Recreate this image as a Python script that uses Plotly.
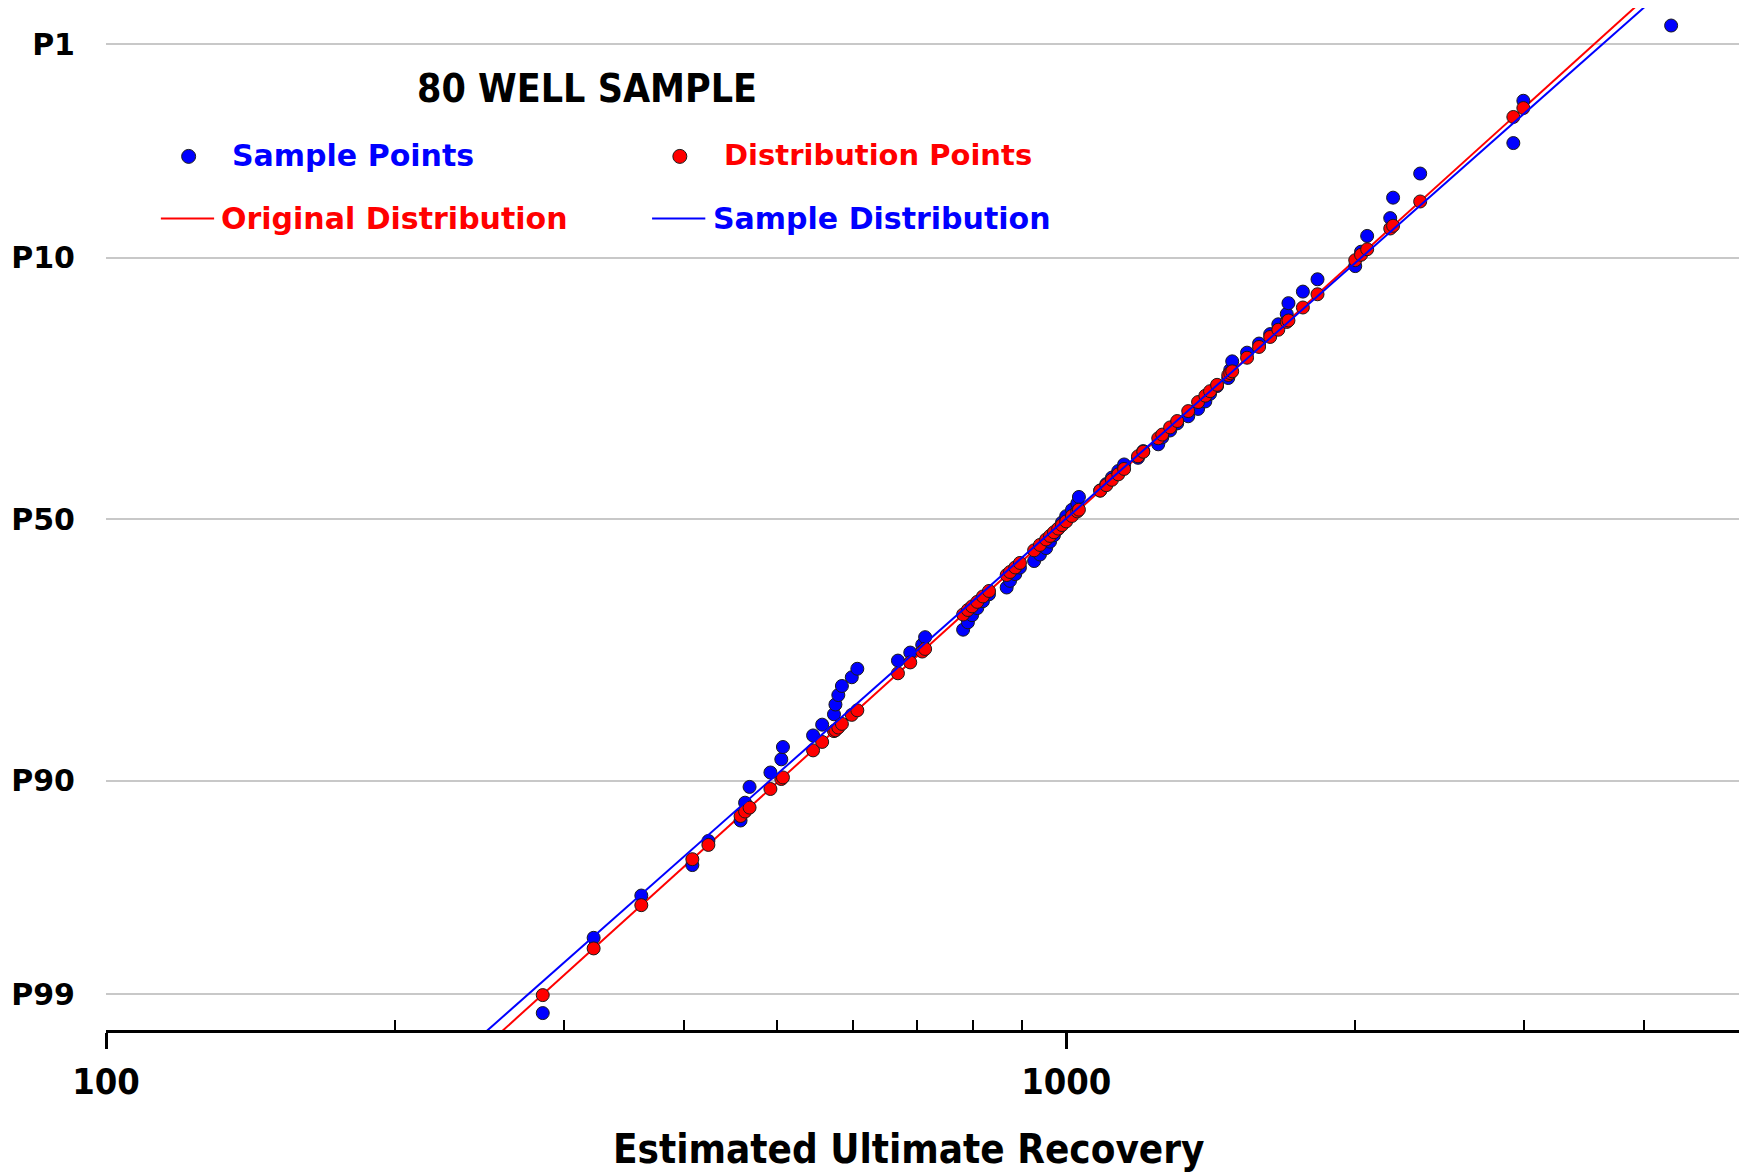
from statistics import NormalDist
import plotly.graph_objects as go

# ---------------- data ----------------
# 80 sample EUR values, ascending
sample_eur = [285, 322, 361, 408, 424, 458, 463, 468, 492, 505,
              507, 545, 557, 573, 575, 579, 584, 598, 606, 668,
              688, 708, 713, 781, 790, 798, 808, 819, 831, 867,
              874, 885, 895, 926, 939, 953, 962, 971, 981, 990,
              1000, 1014, 1027, 1031, 1085, 1101, 1116, 1133, 1149, 1188,
              1203, 1247, 1259, 1283, 1305, 1340, 1372, 1396, 1412, 1436,
              1475, 1482, 1489, 1543, 1588, 1631, 1663, 1697, 1704, 1764,
              1827, 2000, 2028, 2058, 2175, 2190, 2337, 2922, 2993, 4266]

# rank-based cumulative probability (%) of each sample point
sample_cum_pct = [0.78, 2.02, 3.27, 4.52, 5.76, 7.01, 8.26, 9.50, 10.75, 11.99,
                  13.24, 14.49, 15.73, 16.98, 18.22, 19.47, 20.72, 21.96, 23.21, 24.45,
                  25.70, 26.95, 28.19, 29.44, 30.69, 31.93, 33.18, 34.42, 35.67, 36.92,
                  38.16, 39.41, 40.65, 41.90, 43.15, 44.39, 45.64, 46.88, 48.13, 49.38,
                  50.62, 51.87, 53.12, 54.36, 55.61, 56.85, 58.10, 59.35, 60.59, 61.84,
                  63.08, 64.33, 65.58, 66.82, 68.07, 69.31, 70.56, 71.81, 73.05, 74.30,
                  75.55, 76.79, 78.04, 79.28, 80.53, 81.78, 83.02, 84.27, 85.51, 86.76,
                  88.01, 89.25, 90.50, 91.74, 92.99, 94.24, 95.48, 96.73, 97.98, 99.22]

# cumulative probability (%) of the same EUR values on the original distribution
dist_cum_pct = [0.99, 1.78, 2.94, 4.80, 5.54, 7.31, 7.62, 7.90, 9.33, 10.17,
                10.31, 12.89, 13.78, 14.98, 15.08, 15.39, 15.82, 16.91, 17.48, 22.54,
                24.17, 25.86, 26.28, 32.05, 32.85, 33.49, 34.30, 35.28, 36.28, 39.25,
                39.82, 40.68, 41.54, 43.97, 45.01, 46.07, 46.76, 47.48, 48.19, 48.88,
                49.59, 50.65, 51.54, 51.88, 55.58, 56.63, 57.67, 58.71, 59.74, 62.12,
                62.96, 65.43, 66.09, 67.37, 68.48, 70.19, 71.71, 72.75, 73.48, 74.49,
                76.02, 76.30, 76.57, 78.56, 80.07, 81.41, 82.34, 83.31, 83.49, 85.02,
                86.48, 89.78, 90.24, 90.70, 92.28, 92.47, 94.02, 97.56, 97.80, 99.62]

# fitted straight lines (EUR at cumulative 0.5 % and 99.5 %)
line_cum_pct = [0.5, 99.5]
original_line_eur = [249.0, 4059.0]
sample_line_eur = [239.7, 4154.0]

# axis ticks
p_tick_labels = ["P1", "P10", "P50", "P90", "P99"]
p_tick_exceed = [1, 10, 50, 90, 99]
x_tick_vals = [100, 1000]
x_tick_text = ["100", "1000"]
x_minor_vals = [200, 300, 400, 500, 600, 700, 800, 900, 2000, 3000, 4000]

BLUE = "#0000ff"
RED = "#ff0000"
OUTLINE = "#1a1a1a"

nd = NormalDist()


def probit(cum_pct):
    return nd.inv_cdf(cum_pct / 100.0)


y_sample = [probit(p) for p in sample_cum_pct]
y_dist = [probit(p) for p in dist_cum_pct]
y_line = [probit(p) for p in line_cum_pct]
y_ticks = [probit(100 - p) for p in p_tick_exceed]

fig = go.Figure()
fig.add_trace(go.Scatter(x=original_line_eur, y=y_line, mode="lines",
                         line=dict(color=RED, width=2), hoverinfo="skip"))
fig.add_trace(go.Scatter(x=sample_eur, y=y_sample, mode="markers",
                         marker=dict(color=BLUE, size=13, line=dict(color=OUTLINE, width=1)),
                         hoverinfo="skip"))
fig.add_trace(go.Scatter(x=sample_eur, y=y_dist, mode="markers",
                         marker=dict(color=RED, size=13, line=dict(color=OUTLINE, width=1)),
                         hoverinfo="skip"))
fig.add_trace(go.Scatter(x=sample_line_eur, y=y_line, mode="lines",
                         line=dict(color=BLUE, width=2), hoverinfo="skip"))

narrow = "Liberation Sans Narrow, DejaVu Sans Condensed, Liberation Sans, sans-serif"
heavy = "DejaVu Sans, Verdana, sans-serif"

fig.update_layout(
    width=1739, height=1173,
    margin=dict(l=106, r=0, t=8, b=143),
    paper_bgcolor="white", plot_bgcolor="white",
    showlegend=False,
    xaxis=dict(
        type="log", range=[2, 3.7007],
        tickmode="array", tickvals=x_tick_vals, ticktext=[f"<b>{t}</b>" for t in x_tick_text],
        tickfont=dict(family=narrow, size=36, color="black"),
        ticks="outside", ticklen=16, tickwidth=2.5, tickcolor="black",
        ticklabelstandoff=2,
        minor=dict(tickmode="array", tickvals=x_minor_vals, ticks="inside",
                   ticklen=10, tickwidth=1.5, tickcolor="black", showgrid=False),
        showline=True, linecolor="black", linewidth=3,
        showgrid=False, zeroline=False,
    ),
    yaxis=dict(
        range=[-2.501, 2.504],
        tickmode="array", tickvals=y_ticks, ticktext=[f"<b>{t}</b>" for t in p_tick_labels],
        tickfont=dict(family=heavy, size=30, color="black"),
        ticks="", ticklabelstandoff=30,
        showgrid=True, gridcolor="#c8c8c8", gridwidth=1.5,
        showline=False, zeroline=False,
    ),
)

annotations = [
    dict(text="<b>Estimated Ultimate Recovery</b>", x=0.4912, y=-0.1164,
         xanchor="center", yanchor="middle",
         font=dict(family=narrow, size=40, color="black")),
    dict(text="<b>80 WELL SAMPLE</b>", x=0.2947, y=0.9210, xanchor="center", yanchor="middle",
         font=dict(family=narrow, size=39, color="black")),
    dict(text="<b>Sample Points</b>", x=0.0757, y=0.8559, xanchor="left", yanchor="middle",
         font=dict(family=heavy, size=30, color=BLUE)),
    dict(text="<b>Distribution Points</b>", x=0.3773, y=0.8559, xanchor="left", yanchor="middle",
         font=dict(family=heavy, size=29, color=RED)),
    dict(text="<b>Original Distribution</b>", x=0.0689, y=0.7940, xanchor="left", yanchor="middle",
         font=dict(family=heavy, size=30, color=RED)),
    dict(text="<b>Sample Distribution</b>", x=0.3705, y=0.7940, xanchor="left", yanchor="middle",
         font=dict(family=heavy, size=30, color=BLUE)),
]
for a in annotations:
    a.update(xref="paper", yref="paper", showarrow=False)
fig.update_layout(annotations=annotations)

shapes = []
for cx, col in [(0.0506, BLUE), (0.3514, RED)]:
    shapes.append(dict(type="circle", xref="paper", yref="paper",
                       xsizemode="pixel", ysizemode="pixel",
                       xanchor=cx, yanchor=0.8548, x0=-7, x1=7, y0=-7, y1=7,
                       fillcolor=col, line=dict(color=OUTLINE, width=1)))
for x0, x1, col in [(0.0336, 0.0662, RED), (0.3344, 0.3670, BLUE)]:
    shapes.append(dict(type="line", xref="paper", yref="paper",
                       x0=x0, x1=x1, y0=0.7940, y1=0.7940,
                       line=dict(color=col, width=2)))
fig.update_layout(shapes=shapes)

fig.write_html("out.html")
